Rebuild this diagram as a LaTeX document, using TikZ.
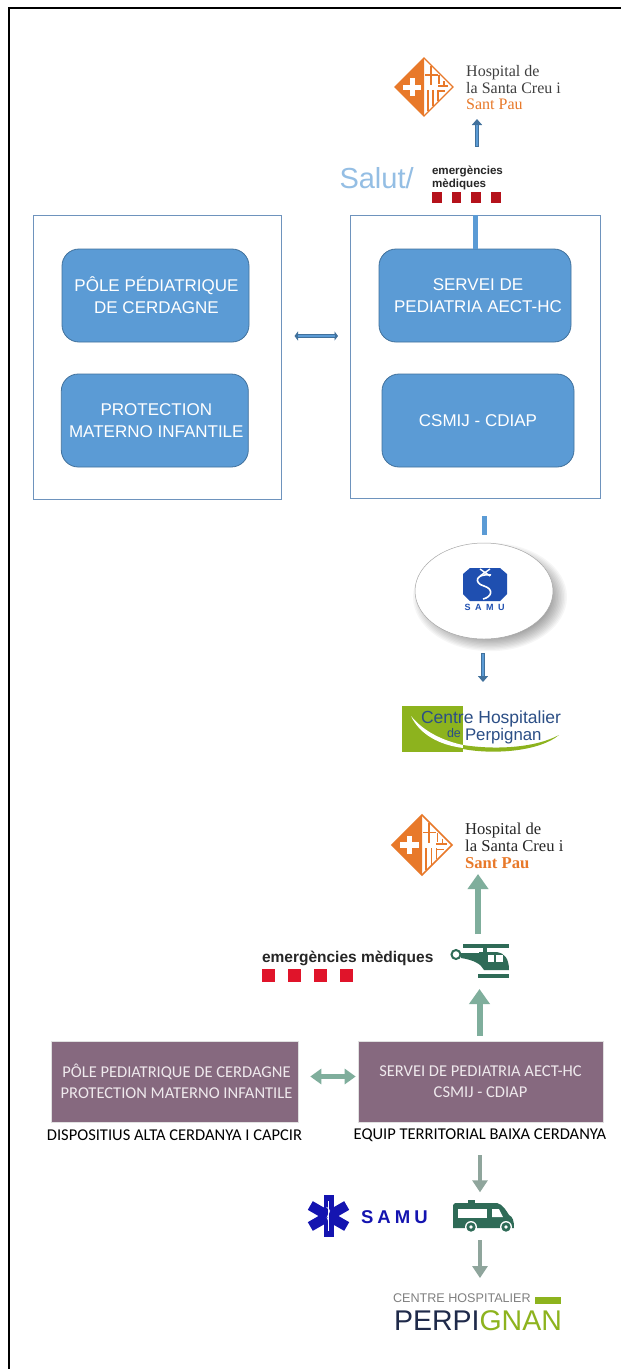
\documentclass[tikz,border=0pt]{standalone}
\usepackage{fontspec}
\setmainfont{Liberation Serif}
\setsansfont{Liberation Sans}
\newfontfamily\carl{Carlito}
\newfontfamily\samuwide[LetterSpace=22]{Liberation Sans}
\newfontfamily\samusmall[LetterSpace=50]{Liberation Sans}
\usetikzlibrary{arrows.meta,calc,shapes.geometric}
\definecolor{bluefill}{HTML}{5B9BD5}
\definecolor{blueedge}{HTML}{41719C}
\definecolor{boxedge}{HTML}{6E93BD}
\definecolor{hsporange}{HTML}{E8792A}
\definecolor{purplebox}{HTML}{86697F}
\definecolor{purpletext}{HTML}{EFE9ED}
\definecolor{greenarr}{HTML}{7FAE9C}
\definecolor{greyarr}{HTML}{8FA59C}
\definecolor{darkgreen}{HTML}{2F6B57}
\definecolor{limeg}{HTML}{8DB31E}
\definecolor{navyt}{HTML}{2C4F86}
\definecolor{navyd}{HTML}{1F2A4A}
\definecolor{samublue}{HTML}{1414B0}
\definecolor{hexblue}{HTML}{1F4FB0}
\definecolor{redem}{HTML}{E0142A}
\definecolor{redtop}{HTML}{B5121B}
\tikzset{
  x=1pt,y=-1pt,
  outerbox/.style={draw=boxedge,line width=1pt,inner sep=0pt},
  bluebox/.style={draw=blueedge,line width=.8pt,fill=bluefill,rounded corners=17pt,inner sep=0pt,
    text=white,align=center,font=\sffamily\fontsize{17}{22}\selectfont},
  purple/.style={fill=purplebox,draw=black!12,line width=.6pt,inner sep=0pt,text=purpletext,align=center,
    font=\carl\fontsize{16.5}{21}\selectfont},
  caption/.style={inner sep=0pt,font=\carl\fontsize{16.5}{18}\selectfont},
  blank/.style={inner sep=0pt,outer sep=0pt},
  hsptext/.style={inner sep=0pt,align=left,font=\rmfamily\fontsize{16}{16.5}\selectfont},
  bluearrow/.style={draw=blueedge,line width=4.5pt,-{Triangle[width=10pt,length=6pt,fill=blueedge]}},
  bluearrowin/.style={draw=bluefill,line width=2.8pt},
  bluebar/.style={draw=bluefill,line width=5pt},
  greenup/.style={draw=greenarr,line width=6pt,-{Triangle[width=20pt,length=15pt]}},
  greydown/.style={draw=greyarr,line width=3.5pt,-{Triangle[width=15pt,length=12pt]}},
}
\newcommand{\hsplogo}[4]{% x y half-size linewidth
  \begin{scope}[shift={(#1,#2)},x=#3/29*1pt,y=-#3/29*1pt]
    \fill[white] (0,-29) -- (29,0) -- (0,29) -- (-29,0) -- cycle;
    \fill[hsporange] (0,-29) -- (0,29) -- (-29,0) -- cycle;
    \fill[white] (-21,-2.5) rectangle (-3,2.5);
    \fill[white] (-14.5,-9) rectangle (-9.5,9);
    \draw[hsporange,line width=#4] (0,-29) -- (29,0) -- (0,29) -- (-29,0) -- cycle;
    \draw[hsporange,line width=1.5pt] (7,-21) -- (7,-2) (1,-12) -- (14,-12)
      (15,-12) -- (15,-3) (20,-6) -- (20,0) (14,-1) -- (24,-1);
    \draw[hsporange,line width=1.5pt] (4,3) -- (4,24) (9,3) -- (9,19) (14,3) -- (14,14);
    \draw[hsporange,line width=1.2pt] (14,4) -- (21,4);
  \end{scope}}
\begin{document}
\begin{tikzpicture}
\useasboundingbox (0,0) rectangle (621,1369);
\fill[white] (0,0) rectangle (621,1369);
% page frame
\draw[black,line width=2pt] (9,1369) -- (9,8) -- (621,8);

% ---------- upper chart ----------
\node[blank,minimum width=168pt,minimum height=60pt] (hspA) at (477,87) {};
\hsplogo{424}{87}{29}{1.3pt}
\node[hsptext,anchor=west,text=black!75] (hspAt) at (466,88) {Hospital de\\la Santa Creu i\\\textcolor{hsporange}{Sant Pau}};

\node[blank,anchor=west,text=bluefill!65,font=\sffamily\fontsize{29}{29}\selectfont] (salut) at (339.5,178) {Salut/};
\node[blank,anchor=west,align=left,text=black!85,
  font=\sffamily\bfseries\fontsize{11.6}{13}\selectfont] (emA) at (432,177.5) {emergències\\mèdiques};
\foreach \n in {0,1,2,3} \fill[redtop] (432+\n*19.7,192) rectangle +(9.5,10.5);

\node[outerbox,minimum width=248pt,minimum height=284pt] (leftA) at (157.5,357.5) {};
\node[outerbox,minimum width=250pt,minimum height=283.5pt] (rightA) at (475,357.2) {};
\node[bluebox,minimum width=187pt,minimum height=93pt] (poleA) at (155.5,295.5) {\hspace*{2pt}PÔLE PÉDIATRIQUE\\\hspace*{2pt}DE CERDAGNE};
\node[bluebox,minimum width=187pt,minimum height=93pt] (pmiA) at (154.8,420.5) {\hspace*{3pt}PROTECTION\\\hspace*{3pt}MATERNO INFANTILE};
\node[bluebox,minimum width=192pt,minimum height=93pt] (serviA) at (475,295.5) {\hspace*{6pt}SERVEI DE\\\hspace*{6pt}PEDIATRIA AECT-HC};
\node[bluebox,minimum width=192pt,minimum height=93pt] (csmijA) at (478,420.5) {CSMIJ - CDIAP};

\foreach \i in {1,...,14}
  \fill[black,opacity=.035] (490,597) ellipse ({56+\i*1.5} and {36+\i*1.3});
\node[ellipse,draw=black!35,line width=.5pt,fill=white,minimum width=138pt,minimum height=96pt,inner sep=0pt] (samuA) at (484,591) {};
\fill[hexblue] (463,574) -- (470,568) -- (500,568) -- (507,574) -- (507,594) -- (500,601) -- (470,601) -- (463,594) -- cycle;
\draw[white,line width=1.6pt] (491,575) .. controls (476,573) and (473,583) .. (484,586)
   .. controls (494,589) and (492,597) .. (483,599);
\draw[white,line width=1.4pt] (480,569) -- (490,576) (490,569) -- (480,576);
\node[blank,text=hexblue,font=\samusmall\bfseries\fontsize{9}{9}\selectfont] (samuAt) at (484.5,607.5) {SAMU};

\node[blank,minimum width=160pt,minimum height=46pt] (chpA) at (483,729) {};
\fill[limeg] (402,706) rectangle (463,752);
\fill[white] (411,716) .. controls (420,735) and (440,745) .. (463,748) -- (463,745) .. controls (444,741) and (424,732) .. cycle;
\fill[limeg] (463,745) .. controls (495,750) and (535,748) .. (559,735) .. controls (540,751) and (495,755) .. (463,749) -- cycle;
\node[blank,anchor=west,text=navyt,font=\sffamily\fontsize{17.5}{17.5}\selectfont] (chpAa) at (421,719) {Centre Hospitalier};
\node[blank,anchor=west,text=navyt,font=\sffamily\fontsize{12.5}{12.5}\selectfont] (chpAb) at (447,733) {de};
\node[blank,anchor=west,text=navyt,font=\sffamily\fontsize{16.8}{16.8}\selectfont] (chpAc) at (465,736.5) {Perpignan};

% upper connectors
\draw[bluearrow,shorten <=19pt,shorten >=2pt] (emA.north -| hspA.south) -- (hspA.south);
\draw[bluearrowin,shorten <=19.5pt,shorten >=8pt] (emA.north -| hspA.south) -- (hspA.south);
\draw[bluebar] (rightA.north -| serviA.north) -- (serviA.north);
\draw[bluebar,shorten <=17pt,shorten >=7.5pt] (rightA.south -| samuA.north) -- (samuA.north);
\draw[draw=blueedge,line width=3.6pt,{Triangle[width=9pt,length=3.5pt,fill=blueedge]}-{Triangle[width=9pt,length=3.5pt,fill=blueedge]},shorten <=12.5pt,shorten >=11.5pt]
   (leftA.east |- 0,336) -- (rightA.west |- 0,336);
\draw[bluefill,line width=1.6pt,shorten <=16pt,shorten >=15pt] (leftA.east |- 0,336) -- (rightA.west |- 0,336);
\draw[bluearrow,shorten <=14pt,shorten >=24pt] (samuA.south -| 483,0) -- (chpA.north -| 483,0);
\draw[bluearrowin,shorten <=14.5pt,shorten >=30pt] (samuA.south -| 483,0) -- (chpA.north -| 483,0);

% ---------- lower chart ----------
\node[blank,minimum width=172pt,minimum height=60pt] (hspB) at (478,845) {};
\hsplogo{422}{845}{30}{1.6pt}
\node[hsptext,anchor=west,text=black!85,font=\rmfamily\fontsize{16.6}{17}\selectfont] (hspBt) at (465,846)
  {Hospital de\\la Santa Creu i\\\textcolor{hsporange}{\textbf{Sant Pau}}};

\node[blank,anchor=west,text=black!85,font=\sffamily\bfseries\fontsize{15.5}{15.5}\selectfont] (emB) at (262,958) {emergències mèdiques};
\foreach \n in {0,1,2,3} \fill[redem] (262+\n*26,969) rectangle +(13,13);

% helicopter
\node[blank,minimum width=59pt,minimum height=34pt] (heli) at (479.5,961) {};
\fill[darkgreen] (463,944) rectangle (509,948);
\fill[darkgreen] (483,948) rectangle (487,952);
\fill[darkgreen] (479,952) -- (497,952) .. controls (504,953) and (509,958) .. (509,970) -- (484,970) .. controls (481,964) and (474,960) .. (461,958) -- (461,953) -- (479,953) -- cycle;
\draw[darkgreen,line width=2pt] (456,954.5) circle (4.5);
\fill[darkgreen] (461,952.5) rectangle (466,957.5);
\fill[white] (488,955) rectangle (494,962);
\fill[white] (496,955) rectangle (503,962);
\fill[darkgreen] (478,973.5) rectangle (509,978);

\node[purple,minimum width=247pt,minimum height=81pt] (poleB) at (174.5,1081.5) {\hspace*{4pt}PÔLE PEDIATRIQUE DE CERDAGNE\\\hspace*{4pt}PROTECTION MATERNO INFANTILE};
\node[purple,minimum width=245pt,minimum height=81pt] (serviB) at (480.5,1081.5) {SERVEI DE PEDIATRIA AECT-HC\\CSMIJ - CDIAP};
\node[caption] (capL) at (174.5,1135) {DISPOSITIUS ALTA CERDANYA I CAPCIR};
\node[caption] (capR) at (480,1135) {EQUIP TERRITORIAL BAIXA CERDANYA};

% ambulance
\node[blank,minimum width=61pt,minimum height=34pt] (amb) at (483.5,1216) {};
\fill[darkgreen] (468,1200) rectangle (475,1204);
\fill[darkgreen] (455,1203) -- (497,1203) .. controls (503,1204) and (507,1212) .. (509,1215)
   .. controls (513,1217) and (514,1221) .. (514,1228) -- (453,1228) -- (453,1205) -- cycle;
\fill[white] (458,1209) rectangle (487,1218);
\fill[white] (492,1209) -- (499,1209) -- (503,1217) -- (492,1217) -- cycle;
\foreach \cx in {471,506} {
  \fill[white] (\cx,1227) circle (6);
  \fill[darkgreen] (\cx,1227) circle (4.7);
  \fill[white] (\cx,1227) circle (1.8);
}

% star of life and SAMU
\begin{scope}[shift={(328.5,1216)}]
  \foreach \a in {0,60,120}
    \fill[samublue,rotate=\a] (-5,-21) rectangle (5,21);
  \draw[white,line width=.7pt] (0,-15) -- (0,15);
  \draw[white,line width=.6pt] (-2,-9) .. controls (2,-6) and (2,-4) .. (0,-2) .. controls (-2,0) and (-2,3) .. (0,5);
\end{scope}
\node[blank,anchor=west,text=samublue,font=\samuwide\bfseries\fontsize{18.5}{18.5}\selectfont] (samuB) at (361,1217) {SAMU};

% Perpignan wordmark
\node[blank,minimum width=170pt,minimum height=46pt] (chpB) at (478,1311) {};
\node[blank,anchor=west,text=black!50,font=\sffamily\fontsize{12.6}{12.6}\selectfont] (chpBa) at (393,1298.5) {CENTRE HOSPITALIER};
\fill[limeg] (535,1297) rectangle (561,1304);
\node[blank,anchor=west,font=\sffamily\fontsize{28.5}{28.5}\selectfont] (chpBb) at (394,1321) {\textcolor{navyd}{PERPI}\textcolor{limeg}{GNAN}};

% lower connectors
\draw[greenup] (heli.north) ++(-1.5,-10) -- ($(hspB.south)+(0,-1)$);
\draw[greenup] (serviB.north -| heli.south) ++(0,-5) -- ($(heli.south)+(0,11)$);
\draw[greenarr,line width=5pt,{Triangle[width=15pt,length=11pt]}-{Triangle[width=15pt,length=11pt]}]
  (poleB.east) ++(12,-5) -- ($(serviB.west)+(-2,-5)$);
\draw[greydown] (serviB.south) ++(-.5,33) -- ++(0,37);
\draw[greydown] (amb.south) ++(-3.5,7) -- ++(0,38);
\end{tikzpicture}
\end{document}
